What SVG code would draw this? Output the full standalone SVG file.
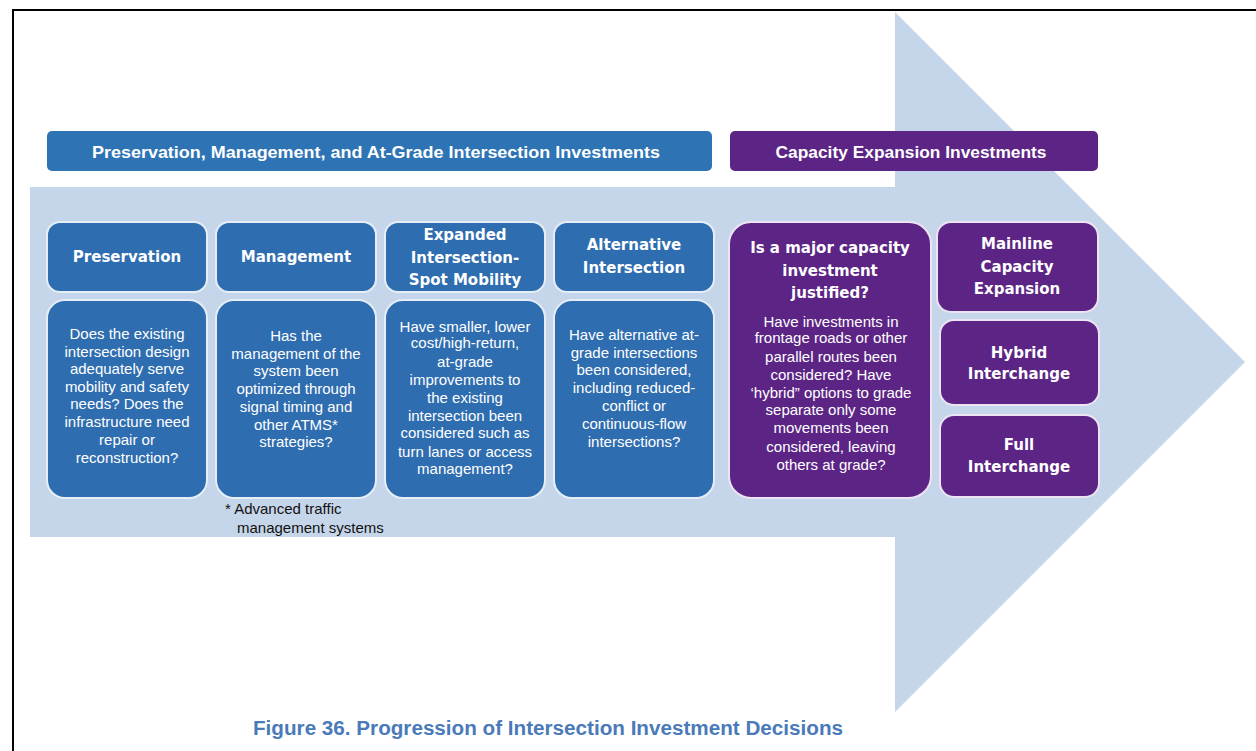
<svg xmlns="http://www.w3.org/2000/svg" width="1256" height="751" viewBox="0 0 1256 751">
<style>
.blue{fill:#2e6db0;stroke:#e6edf7;stroke-width:2}
.purp{fill:#5c2585;stroke:#ece4f2;stroke-width:2}
.hdr{font-family:"Liberation Sans",Arial,sans-serif;font-weight:bold;font-size:17px;fill:#fff;text-anchor:middle}
.ttl{font-family:"DejaVu Sans",Verdana,sans-serif;font-weight:bold;font-size:15px;fill:#fff;text-anchor:middle}
.body{font-family:"Liberation Sans",Arial,sans-serif;font-size:15px;fill:#fff;text-anchor:middle}
.note{font-family:"Liberation Sans",Arial,sans-serif;font-size:15px;fill:#111}
.cap{font-family:"Liberation Sans",Arial,sans-serif;font-weight:bold;font-size:20px;fill:#4a7ab9;text-anchor:middle}
</style>
<rect width="1256" height="751" fill="#fff"/>
<path d="M13 751V10H1256" fill="none" stroke="#000" stroke-width="2"/>
<polygon id="arrow" points="30,187 895,187 895,12 1245,362 895,712 895,537 30,537" fill="#c6d6ea"/>

<g id="hdr-left">
<rect x="47" y="131" width="665" height="40" rx="5" fill="#2e74b5"/>
<text class="hdr" x="376" y="158" textLength="568" lengthAdjust="spacingAndGlyphs">Preservation, Management, and At-Grade Intersection Investments</text>
</g>
<g id="hdr-right">
<rect x="730" y="131" width="368" height="40" rx="5" fill="#5c2585"/>
<text class="hdr" x="911" y="158" textLength="271" lengthAdjust="spacingAndGlyphs">Capacity Expansion Investments</text>
</g>

<g id="preservation">
<rect class="blue" x="47" y="222" width="160" height="70" rx="13"/>
<text class="ttl" x="127" y="262">Preservation</text>
</g>
<g id="preservation-q">
<rect class="blue" x="47" y="300" width="160" height="198" rx="18"/>
<text class="body" x="127" y="339">Does the existing<tspan x="127" y="357">intersection design</tspan><tspan x="127" y="374">adequately serve</tspan><tspan x="127" y="392">mobility and safety</tspan><tspan x="127" y="409">needs? Does the</tspan><tspan x="127" y="427">infrastructure need</tspan><tspan x="127" y="445">repair or</tspan><tspan x="127" y="463">reconstruction?</tspan></text>
</g>

<g id="management">
<rect class="blue" x="216" y="222" width="160" height="70" rx="13"/>
<text class="ttl" x="296" y="262">Management</text>
</g>
<g id="management-q">
<rect class="blue" x="216" y="300" width="160" height="198" rx="18"/>
<text class="body" x="296" y="341">Has the<tspan x="296" y="359">management of the</tspan><tspan x="296" y="376">system been</tspan><tspan x="296" y="394">optimized through</tspan><tspan x="296" y="412">signal timing and</tspan><tspan x="296" y="430">other ATMS*</tspan><tspan x="296" y="447">strategies?</tspan></text>
</g>
<g id="footnote">
<text class="note" x="225" y="514">* Advanced traffic<tspan x="237" y="533">management systems</tspan></text>
</g>

<g id="expanded">
<rect class="blue" x="385" y="222" width="160" height="70" rx="13"/>
<text class="ttl" x="465" y="240">Expanded<tspan x="465" y="263">Intersection-</tspan><tspan x="465" y="285">Spot Mobility</tspan></text>
</g>
<g id="expanded-q">
<rect class="blue" x="385" y="300" width="160" height="198" rx="18"/>
<text class="body" x="465" y="332">Have smaller, lower<tspan x="465" y="348">cost/high-return,</tspan><tspan x="465" y="367">at-grade</tspan><tspan x="465" y="385">improvements to</tspan><tspan x="465" y="403">the existing</tspan><tspan x="465" y="421">intersection been</tspan><tspan x="465" y="438">considered such as</tspan><tspan x="465" y="457">turn lanes or access</tspan><tspan x="465" y="474">management?</tspan></text>
</g>

<g id="alternative">
<rect class="blue" x="554" y="222" width="160" height="70" rx="13"/>
<text class="ttl" x="634" y="250">Alternative<tspan x="634" y="273">Intersection</tspan></text>
</g>
<g id="alternative-q">
<rect class="blue" x="554" y="300" width="160" height="198" rx="18"/>
<text class="body" x="634" y="340">Have alternative at-<tspan x="634" y="358">grade intersections</tspan><tspan x="634" y="375">been considered,</tspan><tspan x="634" y="393">including reduced-</tspan><tspan x="634" y="411">conflict or</tspan><tspan x="634" y="429">continuous-flow</tspan><tspan x="634" y="447">intersections?</tspan></text>
</g>

<g id="major-capacity">
<rect class="purp" x="729" y="222" width="202" height="276" rx="22"/>
<text class="ttl" x="830" y="253">Is a major capacity<tspan x="830" y="276">investment</tspan><tspan x="830" y="298">justified?</tspan></text>
<text class="body" x="831" y="327">Have investments in<tspan x="831" y="343">frontage roads or other</tspan><tspan x="831" y="362">parallel routes been</tspan><tspan x="831" y="380">considered? Have</tspan><tspan x="831" y="398">‘hybrid” options to grade</tspan><tspan x="831" y="415">separate only some</tspan><tspan x="831" y="433">movements been</tspan><tspan x="831" y="452">considered, leaving</tspan><tspan x="831" y="470">others at grade?</tspan></text>
</g>

<g id="mainline">
<rect class="purp" x="937" y="222" width="161" height="90" rx="14"/>
<text class="ttl" x="1017" y="249">Mainline<tspan x="1017" y="272">Capacity</tspan><tspan x="1017" y="294">Expansion</tspan></text>
</g>
<g id="hybrid">
<rect class="purp" x="940" y="320" width="159" height="85" rx="14"/>
<text class="ttl" x="1019" y="358">Hybrid<tspan x="1019" y="379">Interchange</tspan></text>
</g>
<g id="full">
<rect class="purp" x="940" y="415" width="159" height="82" rx="14"/>
<text class="ttl" x="1019" y="450">Full<tspan x="1019" y="472">Interchange</tspan></text>
</g>

<g id="caption">
<text class="cap" x="548" y="735" textLength="590" lengthAdjust="spacingAndGlyphs">Figure 36. Progression of Intersection Investment Decisions</text>
</g>
<g id="connectors"/>
</svg>
